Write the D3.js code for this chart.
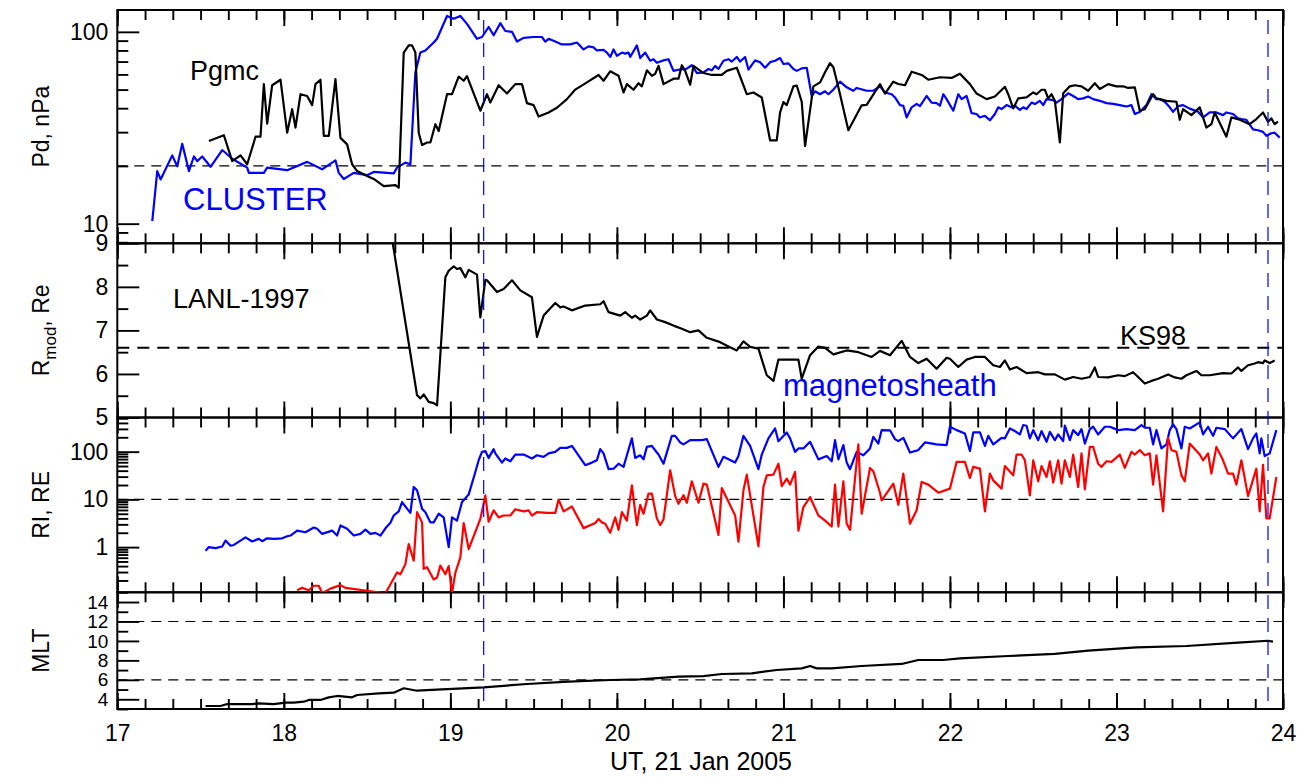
<!DOCTYPE html>
<html>
<head>
<meta charset="utf-8">
<script src="https://d3js.org/d3.v7.min.js"></script>
<style>
  body { margin: 0; background: #ffffff; }
  svg { font-family: "Liberation Sans", Arial, sans-serif; background: #ffffff; }
</style>
</head>
<body>
<div id="chartHere"></div>
<script>

// UT hours on 21 Jan 2005
// Pd (nPa) at CLUSTER (blue) and Pgmc (black)
var clusterPd = [[17.21,10.3],[17.24,18.8],[17.26,17.0],[17.33,22.7],[17.36,19.9],[17.39,26.1],[17.43,18.8],[17.46,22.4],[17.48,21.2],[17.51,22.4],[17.56,19.8],[17.63,24.2],[17.69,21.8],[17.78,19.6],[17.79,18.4],[17.88,18.4],[17.90,19.6],[18.02,19.0],[18.14,21.0],[18.23,19.2],[18.31,21.4],[18.33,18.4],[18.36,17.1],[18.42,18.4],[18.50,17.9],[18.54,18.6],[18.66,18.3],[18.68,19.6],[18.73,20.8],[18.76,20.4],[18.79,61.6],[18.82,78],[18.85,80],[18.90,88],[18.92,92],[18.98,121],[19.02,117],[19.06,121],[19.10,110],[19.16,92],[19.19,94],[19.23,106],[19.26,96],[19.30,111],[19.33,101],[19.37,100],[19.40,89],[19.44,93],[19.50,94],[19.55,94],[19.57,89],[19.59,92],[19.63,89],[19.67,86],[19.72,86],[19.76,88],[19.80,81],[19.83,84],[19.86,83],[19.88,80],[19.92,80.5],[19.94,78],[19.96,74],[19.98,81],[20.00,75],[20.03,78],[20.05,77],[20.07,78],[20.08,74],[20.12,85],[20.14,73],[20.17,78],[20.20,70.7],[20.22,72],[20.24,69],[20.28,71],[20.31,72],[20.34,62.6],[20.39,64],[20.41,63.5],[20.45,67],[20.48,61],[20.52,61.5],[20.55,64],[20.57,63],[20.59,66.5],[20.61,64],[20.64,70.7],[20.67,72],[20.69,70],[20.72,74],[20.74,70],[20.77,74],[20.79,63.6],[20.83,71],[20.86,69.5],[20.89,65],[20.92,69.5],[20.95,70.7],[20.98,73],[21.00,68],[21.03,68.5],[21.06,64],[21.08,62.6],[21.11,64.5],[21.14,65],[21.17,46.3],[21.19,49],[21.22,47.3],[21.25,49],[21.27,47.3],[21.30,50],[21.34,55],[21.38,51.4],[21.42,49.3],[21.44,51],[21.50,49.3],[21.54,49.3],[21.58,52],[21.61,48.3],[21.65,47.3],[21.67,45.5],[21.70,41.5],[21.72,41.2],[21.74,35.8],[21.77,40.4],[21.80,42.1],[21.82,41],[21.86,46.3],[21.89,42.8],[21.92,42.5],[21.94,41.2],[21.96,47.3],[21.98,44.6],[22.02,38.8],[22.05,47.3],[22.07,44.6],[22.10,46.3],[22.13,37.7],[22.16,37.3],[22.18,35.8],[22.21,36.5],[22.24,34.6],[22.27,37.3],[22.29,40.4],[22.31,39.6],[22.34,41.5],[22.37,40.4],[22.39,41.2],[22.42,39.2],[22.44,40.4],[22.46,39.6],[22.49,42.8],[22.51,42],[22.54,43.7],[22.56,41.5],[22.58,44.6],[22.62,44.1],[22.64,42.8],[22.67,44.6],[22.71,47.8],[22.74,46.3],[22.77,44.6],[22.80,45],[22.83,46.0],[22.86,44.6],[22.90,43.7],[22.94,42.5],[22.98,42.1],[23.02,41.5],[23.06,40.8],[23.09,41.5],[23.11,37.3],[23.14,38.2],[23.18,41.5],[23.21,47.3],[23.24,44.6],[23.26,44.6],[23.29,43.2],[23.32,40.4],[23.34,38.3],[23.37,41],[23.40,41.5],[23.44,39.8],[23.49,38.3],[23.52,35.8],[23.56,38],[23.60,38],[23.64,36.8],[23.66,38],[23.70,37.3],[23.73,35.4],[23.75,35.1],[23.78,34.8],[23.82,31.0],[23.85,30.7],[23.88,30.1],[23.90,28.7],[23.93,29.6],[23.95,29.8],[23.98,28.1]];

var pgmcPd = [[17.55,27.0],[17.64,28.9],[17.69,21.2],[17.74,22.7],[17.78,20.4],[17.83,28.4],[17.86,28.4],[17.88,53.4],[17.90,33.2],[17.93,52.7],[17.98,56.3],[18.02,29.8],[18.05,39.5],[18.07,31.7],[18.10,47.3],[18.14,46.3],[18.17,41.5],[18.19,53.4],[18.22,56.3],[18.24,28.7],[18.27,28.7],[18.31,56.7],[18.34,28.0],[18.38,25.9],[18.41,20.4],[18.44,18.8],[18.50,17.7],[18.54,17.1],[18.60,15.7],[18.67,15.9],[18.69,15.4],[18.72,78],[18.75,85],[18.77,85],[18.79,78],[18.81,29.8],[18.83,25.7],[18.86,26.5],[18.88,26.5],[18.91,33],[18.93,30.4],[18.98,47.3],[19.01,47.3],[19.05,58.4],[19.08,55.6],[19.10,58.8],[19.18,38.8],[19.22,47.3],[19.24,42.8],[19.29,52.7],[19.34,47.7],[19.39,53.4],[19.43,53.4],[19.46,42.5],[19.50,41.5],[19.53,36.2],[19.59,38],[19.64,40.2],[19.70,44.6],[19.75,50],[19.82,54.5],[19.89,59.6],[19.92,55.6],[19.96,62.3],[20.01,59],[20.04,48.3],[20.06,53.4],[20.10,49.9],[20.13,54],[20.15,52],[20.18,63],[20.21,59],[20.23,60.5],[20.25,66.5],[20.28,53.4],[20.34,57],[20.37,57],[20.39,67],[20.41,62.6],[20.44,53],[20.46,66.5],[20.52,61],[20.57,59.6],[20.63,59.6],[20.66,62.6],[20.72,65],[20.78,47.3],[20.82,48.3],[20.87,45.5],[20.92,27.2],[20.96,27.2],[20.98,38],[21.00,43],[21.02,41.5],[21.06,52],[21.08,52.5],[21.11,43.2],[21.13,25.4],[21.18,52],[21.22,54.5],[21.25,61.6],[21.28,68.7],[21.30,65.4],[21.33,51.4],[21.39,30.7],[21.47,41.4],[21.50,41.6],[21.58,53.4],[21.61,47.7],[21.66,55],[21.69,53.5],[21.73,52.7],[21.77,62],[21.83,59.6],[21.87,56.3],[21.94,58],[22.01,57.5],[22.06,60.5],[22.12,53.4],[22.16,47.7],[22.22,44.6],[22.27,46],[22.33,51.7],[22.35,47.3],[22.38,39.9],[22.41,45],[22.46,45.5],[22.50,48.3],[22.52,47.3],[22.55,49.9],[22.57,49.9],[22.59,45],[22.61,47.3],[22.63,43.7],[22.66,26.5],[22.68,47.8],[22.72,52],[22.75,52.7],[22.79,52],[22.83,49.3],[22.87,54],[22.90,50.4],[22.95,53.4],[23.00,52],[23.04,52],[23.07,51],[23.11,51.4],[23.14,38.8],[23.17,39.5],[23.22,47.3],[23.24,45],[23.26,44.6],[23.30,43.7],[23.36,43.2],[23.38,34.8],[23.40,39.5],[23.45,36.8],[23.50,40.4],[23.54,31.7],[23.57,33],[23.59,38],[23.66,28.4],[23.69,35.8],[23.74,34.8],[23.80,33],[23.84,35.1],[23.88,38],[23.91,34],[23.93,35.4],[23.95,33],[23.97,34]];

// magnetopause distance, LANL-1997 (Re)
var rmodLanl = [[18.65,9.1],[18.80,5.51],[18.82,5.44],[18.84,5.53],[18.87,5.36],[18.90,5.33],[18.92,5.28],[18.97,8.22],[18.99,8.37],[19.02,8.47],[19.04,8.41],[19.06,8.43],[19.09,8.22],[19.11,8.39],[19.16,8.28],[19.18,7.30],[19.21,8.16],[19.22,8.15],[19.28,7.88],[19.32,7.95],[19.37,8.15],[19.42,7.92],[19.49,7.76],[19.52,6.85],[19.56,7.34],[19.63,7.63],[19.66,7.53],[19.68,7.55],[19.73,7.46],[19.81,7.57],[19.90,7.60],[19.92,7.67],[19.95,7.42],[20.02,7.34],[20.05,7.42],[20.09,7.29],[20.11,7.34],[20.14,7.25],[20.18,7.34],[20.20,7.46],[20.24,7.25],[20.29,7.19],[20.34,7.11],[20.39,7.04],[20.44,6.96],[20.49,7.00],[20.54,6.83],[20.62,6.73],[20.67,6.63],[20.72,6.54],[20.76,6.75],[20.80,6.62],[20.85,6.58],[20.90,5.97],[20.94,5.84],[20.97,6.33],[21.09,6.33],[21.11,5.89],[21.16,6.43],[21.21,6.63],[21.25,6.60],[21.30,6.45],[21.38,6.54],[21.45,6.50],[21.53,6.39],[21.58,6.53],[21.64,6.43],[21.71,6.76],[21.76,6.39],[21.81,6.25],[21.86,6.35],[21.92,6.12],[21.98,6.37],[22.00,6.35],[22.05,6.16],[22.10,6.33],[22.15,6.39],[22.21,6.39],[22.26,6.20],[22.30,6.16],[22.33,6.31],[22.36,6.10],[22.40,6.16],[22.46,6.02],[22.53,6.04],[22.57,5.99],[22.63,5.99],[22.69,5.87],[22.74,5.93],[22.79,5.89],[22.84,5.93],[22.87,6.15],[22.89,5.93],[22.95,5.92],[23.01,5.97],[23.05,5.95],[23.10,6.04],[23.13,5.93],[23.17,5.78],[23.21,5.84],[23.25,5.89],[23.31,5.99],[23.35,5.92],[23.39,5.89],[23.42,5.97],[23.48,6.07],[23.51,5.97],[23.56,5.97],[23.64,6.02],[23.69,6.01],[23.73,6.15],[23.75,6.07],[23.79,6.20],[23.83,6.24],[23.85,6.27],[23.88,6.25],[23.89,6.31],[23.92,6.25],[23.95,6.31]];

// RI (blue) and RE (red)
var riVals = [[17.53,0.84],[17.55,1.0],[17.59,0.95],[17.63,1.03],[17.65,1.37],[17.68,1.07],[17.70,1.11],[17.77,1.60],[17.81,1.31],[17.85,1.49],[17.87,1.33],[17.90,1.53],[17.94,1.49],[17.99,1.53],[18.02,1.69],[18.04,1.75],[18.08,2.22],[18.13,2.05],[18.18,2.57],[18.20,2.42],[18.23,1.89],[18.29,2.22],[18.32,1.75],[18.34,2.84],[18.38,2.42],[18.42,1.75],[18.46,1.89],[18.49,2.33],[18.52,1.89],[18.55,1.99],[18.58,1.75],[18.61,2.48],[18.64,3.25],[18.66,4.6],[18.69,5.6],[18.71,8.8],[18.74,6.4],[18.76,5.2],[18.78,18.2],[18.80,15.5],[18.83,6.4],[18.85,5.4],[18.88,3.3],[18.90,3.3],[18.93,5.0],[18.96,4.2],[18.99,1.0],[19.01,4.2],[19.04,3.6],[19.07,8.8],[19.11,12.6],[19.15,37.6],[19.17,66],[19.19,99],[19.21,103],[19.23,74],[19.26,113],[19.27,92],[19.31,59],[19.33,72],[19.36,63],[19.39,87],[19.44,87],[19.49,72],[19.52,84],[19.56,78],[19.59,92],[19.63,99],[19.66,120],[19.70,120],[19.73,132],[19.81,52],[19.85,59],[19.88,66],[19.90,113],[19.92,92],[19.95,43],[19.98,44],[20.01,56],[20.04,48],[20.06,84],[20.09,190],[20.11,74],[20.14,84],[20.16,69],[20.18,126],[20.21,132],[20.24,96],[20.25,87],[20.28,56],[20.33,215],[20.35,215],[20.38,156],[20.40,142],[20.44,174],[20.51,174],[20.54,183],[20.61,48],[20.64,78],[20.71,59],[20.73,81],[20.76,215],[20.80,132],[20.85,43],[20.87,87],[20.91,190],[20.95,306],[20.97,166],[21.02,253],[21.04,190],[21.07,99],[21.09,117],[21.12,117],[21.16,161],[21.21,69],[21.26,81],[21.29,63],[21.31,174],[21.33,69],[21.36,137],[21.38,59],[21.40,43],[21.44,99],[21.48,84],[21.52,117],[21.54,204],[21.57,148],[21.59,283],[21.64,280],[21.67,183],[21.69,166],[21.72,195],[21.76,96],[21.81,108],[21.85,156],[21.92,142],[21.98,137],[22.00,333],[22.04,283],[22.09,241],[22.12,103],[22.14,253],[22.18,253],[22.21,132],[22.23,215],[22.26,142],[22.31,195],[22.33,190],[22.36,306],[22.39,270],[22.42,230],[22.44,362],[22.46,350],[22.48,190],[22.50,283],[22.53,174],[22.55,270],[22.58,161],[22.60,259],[22.63,174],[22.65,230],[22.68,166],[22.69,350],[22.72,174],[22.74,283],[22.77,222],[22.79,297],[22.81,148],[22.84,297],[22.86,333],[22.89,230],[22.93,333],[22.96,333],[23.01,283],[23.06,297],[23.11,283],[23.15,362],[23.17,317],[23.20,317],[23.22,142],[23.24,283],[23.27,117],[23.30,142],[23.32,283],[23.34,372],[23.36,297],[23.39,117],[23.41,333],[23.44,306],[23.50,410],[23.52,230],[23.55,333],[23.58,215],[23.60,317],[23.65,297],[23.70,190],[23.75,297],[23.79,113],[23.82,190],[23.84,241],[23.86,92],[23.87,190],[23.89,81],[23.92,92],[23.96,283]];

var reVals = [[18.08,0.125],[18.11,0.14],[18.15,0.125],[18.18,0.155],[18.21,0.155],[18.23,0.108],[18.28,0.135],[18.34,0.16],[18.37,0.14],[18.61,0.108],[18.68,0.294],[18.70,0.27],[18.73,0.44],[18.75,1.16],[18.78,0.52],[18.80,5.4],[18.83,3.3],[18.84,0.35],[18.86,0.38],[18.90,0.21],[18.92,0.23],[18.94,0.41],[18.97,0.27],[18.99,0.40],[19.01,0.11],[19.03,0.29],[19.06,0.61],[19.08,3.2],[19.11,0.91],[19.18,3.9],[19.21,12.1],[19.23,3.4],[19.26,5.9],[19.29,4.2],[19.32,4.6],[19.36,4.6],[19.39,6.2],[19.44,5.6],[19.47,5.9],[19.49,4.6],[19.52,5.4],[19.58,5.2],[19.63,5.2],[19.65,9.9],[19.68,5.6],[19.73,7.1],[19.80,2.5],[19.87,3.2],[19.89,3.9],[19.91,3.3],[19.93,3.1],[19.96,2.0],[19.99,4.2],[20.01,2.3],[20.03,5.4],[20.06,3.6],[20.09,19.7],[20.12,2.9],[20.14,7.7],[20.16,5.0],[20.19,13.2],[20.21,13.2],[20.24,4.0],[20.26,2.9],[20.28,3.8],[20.32,40.8],[20.35,11.7],[20.37,8.1],[20.40,12.2],[20.42,8.5],[20.45,23.9],[20.49,8.5],[20.52,21.4],[20.54,20.4],[20.61,1.8],[20.63,17.3],[20.71,4.6],[20.73,1.3],[20.76,15.5],[20.78,33],[20.81,7.5],[20.85,1.04],[20.88,18.2],[20.90,31.9],[20.94,33],[20.97,56],[20.99,19],[21.02,27.3],[21.04,20.4],[21.07,37.6],[21.09,2.2],[21.12,6.9],[21.16,11.2],[21.21,4.6],[21.25,3.6],[21.29,2.7],[21.31,20.4],[21.33,2.7],[21.36,23.9],[21.38,3.1],[21.40,2.3],[21.45,142],[21.47,5.0],[21.52,45.6],[21.54,38.9],[21.58,13.8],[21.59,9.5],[21.66,21.4],[21.69,7.7],[21.72,34.8],[21.76,3.1],[21.80,5.9],[21.83,23.2],[21.87,20.4],[21.93,13.8],[22.00,16.8],[22.04,61],[22.09,61],[22.12,28],[22.14,48],[22.18,44],[22.21,5.6],[22.24,34.8],[22.26,25],[22.31,16.8],[22.33,50],[22.38,31.9],[22.40,87],[22.43,87],[22.45,66],[22.48,12.1],[22.50,66],[22.53,23.9],[22.55,50],[22.58,29.5],[22.60,63],[22.62,22.5],[22.65,66],[22.67,21.4],[22.69,66],[22.72,29.5],[22.74,87],[22.77,18.2],[22.79,92],[22.81,16.2],[22.84,126],[22.86,126],[22.89,56],[22.91,48],[22.94,63],[22.97,61],[23.02,87],[23.05,45.6],[23.09,99],[23.11,87],[23.14,108],[23.17,84],[23.20,92],[23.22,20.4],[23.24,84],[23.28,5.6],[23.31,195],[23.33,108],[23.36,99],[23.39,31.9],[23.41,23.9],[23.44,148],[23.50,87],[23.52,66],[23.55,92],[23.57,34.8],[23.60,126],[23.64,66],[23.67,34.8],[23.70,34.8],[23.72,20.4],[23.75,66],[23.79,11.7],[23.84,44],[23.86,5.6],[23.88,53],[23.90,4.0],[23.92,4.0],[23.96,29.5]];

// magnetic local time of the spacecraft
var mltVals = [[17.53,3.31],[17.62,3.31],[17.66,3.51],[17.81,3.51],[17.85,3.58],[17.94,3.51],[18.01,3.65],[18.06,3.65],[18.12,3.75],[18.15,3.93],[18.22,3.93],[18.27,4.20],[18.32,4.34],[18.41,4.20],[18.44,4.44],[18.57,4.61],[18.66,4.68],[18.72,5.13],[18.80,4.88],[18.95,5.02],[19.20,5.23],[19.46,5.57],[19.71,5.81],[19.96,5.98],[20.14,6.05],[20.37,6.32],[20.52,6.39],[20.63,6.60],[20.81,6.67],[20.96,7.01],[21.11,7.18],[21.16,7.42],[21.20,7.18],[21.29,7.18],[21.47,7.42],[21.71,7.63],[21.81,8.04],[21.96,8.04],[22.06,8.21],[22.35,8.45],[22.63,8.66],[22.83,9.00],[23.12,9.34],[23.42,9.48],[23.73,9.82],[23.91,10.02],[23.94,9.92]];

// reference levels and event times
var pdRef = [20];
var ks98Ref = [6.6];
var rRef = [10];
var mltRef = [6, 12];
var eventTimes = [19.20, 23.91];

// tick labels
var hourTicks = [17, 18, 19, 20, 21, 22, 23, 24];
var pdTicks = [10, 100];
var rmodTicks = [5, 6, 7, 8, 9];
var rTicks = [1, 10, 100];
var mltTicks = [4, 6, 8, 10, 12, 14];


function render()
{
  var dims = {"width": 1311, "height": 778};
  var left = 117.3, right = 1283;

  var svg = d3.select("div#chartHere")
    .append("svg")
      .attr("width", dims.width)
      .attr("height", dims.height);

  var xScale = d3.scaleLinear().domain([17, 24]).range([left, right]);

  var p1 = {top: 10, bottom: 243.3};
  var p2 = {top: 243.3, bottom: 417.5};
  var p3 = {top: 417.5, bottom: 592.3};
  var p4 = {top: 592.3, bottom: 709};

  p1.y = d3.scaleLog().domain([7.9, 130]).range([p1.bottom, p1.top]);
  p2.y = d3.scaleLinear().domain([5, 9]).range([p2.bottom, p2.top]);
  p3.y = d3.scaleLog().domain([0.113, 520]).range([p3.bottom, p3.top]);
  p4.y = d3.scaleLinear().domain([3, 15]).range([p4.bottom, p4.top]);

  p1.major = pdTicks;   p1.minor = p1.y.ticks().filter(function(d){ return pdTicks.indexOf(d) < 0; });
  p2.major = rmodTicks; p2.minor = [5.5, 6.5, 7.5, 8.5];
  p3.major = rTicks;    p3.minor = p3.y.ticks().filter(function(d){ return rTicks.indexOf(d) < 0; });
  p4.major = mltTicks;  p4.minor = [3, 5, 7, 9, 11, 13, 15];
  p1.fs = 23; p2.fs = 23; p3.fs = 23; p4.fs = 19;

  var panels = [p1, p2, p3, p4];
  var minorHours = d3.range(0, 43).map(function(i){ return 17 + i/6; });

  function styleAxis(g, fontSize) {
    g.select(".domain").remove();
    g.selectAll(".tick line").attr("stroke", "#000").attr("stroke-width", 1.9);
    g.selectAll("text").attr("font-size", fontSize)
      .attr("font-family", "Liberation Sans, Arial, sans-serif").attr("fill", "#000");
  }

  panels.forEach(function(p, i) {
    // clip
    svg.append("clipPath").attr("id", "clip" + i)
      .append("rect").attr("x", left).attr("y", p.top)
      .attr("width", right - left).attr("height", p.bottom - p.top);

    // x ticks bottom
    var gb = svg.append("g").attr("transform", "translate(0," + p.bottom + ")")
      .call(d3.axisBottom(xScale).tickValues(hourTicks).tickSize(-16).tickPadding(16)
        .tickFormat(i == 3 ? d3.format("d") : ""));
    styleAxis(gb, 23);
    var gbm = svg.append("g").attr("transform", "translate(0," + p.bottom + ")")
      .call(d3.axisBottom(xScale).tickValues(minorHours).tickSize(-10).tickFormat(""));
    styleAxis(gbm, 10);
    // x ticks top
    var gt = svg.append("g").attr("transform", "translate(0," + p.top + ")")
      .call(d3.axisTop(xScale).tickValues(hourTicks).tickSize(-16).tickFormat(""));
    styleAxis(gt, 10);
    var gtm = svg.append("g").attr("transform", "translate(0," + p.top + ")")
      .call(d3.axisTop(xScale).tickValues(minorHours).tickSize(-10).tickFormat(""));
    styleAxis(gtm, 10);

    // y ticks
    var gy = svg.append("g").attr("transform", "translate(" + left + ",0)")
      .call(d3.axisLeft(p.y).tickValues(p.major).tickSize(-22).tickPadding(9)
        .tickFormat(d3.format("d")));
    styleAxis(gy, p.fs);
    var gym = svg.append("g").attr("transform", "translate(" + left + ",0)")
      .call(d3.axisLeft(p.y).tickValues(p.minor).tickSize(-11).tickFormat(""));
    styleAxis(gym, 10);

    // frame
    svg.append("rect").attr("x", left).attr("y", p.top)
      .attr("width", right - left).attr("height", p.bottom - p.top)
      .attr("fill", "none").attr("stroke", "#000").attr("stroke-width", 2);
  });

  // dashed reference lines
  function hRef(p, vals, width, dash) {
    svg.selectAll(null).data(vals).enter().append("line")
      .attr("x1", left).attr("x2", right)
      .attr("y1", function(d){ return p.y(d); }).attr("y2", function(d){ return p.y(d); })
      .attr("stroke", "#000").attr("stroke-width", width).attr("stroke-dasharray", dash);
  }
  hRef(p1, pdRef, 1.2, "10,7");
  hRef(p2, ks98Ref, 2, "12,8");
  hRef(p3, rRef, 1.2, "10,7");
  hRef(p4, mltRef, 1.2, "10,7");

  // series
  function drawLine(p, i, data, color) {
    var line = d3.line()
      .x(function(d){ return xScale(d[0]); })
      .y(function(d){ return p.y(d[1]); });
    svg.append("path").datum(data)
      .attr("clip-path", "url(#clip" + i + ")")
      .attr("d", line)
      .attr("fill", "none").attr("stroke", color)
      .attr("stroke-width", 2.2).attr("stroke-linejoin", "round");
  }
  drawLine(p1, 0, clusterPd, "#0000ff");
  drawLine(p1, 0, pgmcPd, "#000000");
  drawLine(p2, 1, rmodLanl, "#000000");
  drawLine(p3, 2, riVals, "#0000ff");
  drawLine(p3, 2, reVals, "#ff0000");
  drawLine(p4, 3, mltVals, "#000000");

  // event markers
  svg.selectAll("line.event").data(eventTimes).enter().append("line")
    .attr("class", "event")
    .attr("x1", function(d){ return xScale(d); }).attr("x2", function(d){ return xScale(d); })
    .attr("y1", p1.top + 10).attr("y2", p4.bottom)
    .attr("stroke", "#0000ff").attr("stroke-width", 1.2).attr("stroke-dasharray", "14,9");

  // y labels
  function yLabel(p, txt) {
    return svg.append("text")
      .attr("transform", "translate(49," + ((p.top + p.bottom) / 2) + ") rotate(-90)")
      .attr("text-anchor", "middle").attr("font-size", 23).attr("fill", "#000")
      .text(txt);
  }
  yLabel(p1, "Pd, nPa");
  var rl = yLabel(p2, "");
  rl.append("tspan").text("R");
  rl.append("tspan").attr("font-size", 17).attr("dy", 7).text("mod");
  rl.append("tspan").attr("dy", -7).text(", Re");
  yLabel(p3, "RI, RE");
  yLabel(p4, "MLT");

  svg.append("text").attr("x", 701).attr("y", 770)
    .attr("text-anchor", "middle").attr("font-size", 25).text("UT, 21 Jan 2005");

  // annotations
  function note(x, y, txt, color, size) {
    svg.append("text").attr("x", x).attr("y", y).attr("fill", color)
      .attr("font-size", size).text(txt);
  }
  note(190, 80, "Pgmc", "#000", 27);
  note(183, 210, "CLUSTER", "#0000ff", 31);
  note(173, 308, "LANL-1997", "#000", 27);
  note(1120, 345, "KS98", "#000", 27);
  note(783, 396, "magnetosheath", "#0000ff", 31);
}

render();
</script>
</body>
</html>
